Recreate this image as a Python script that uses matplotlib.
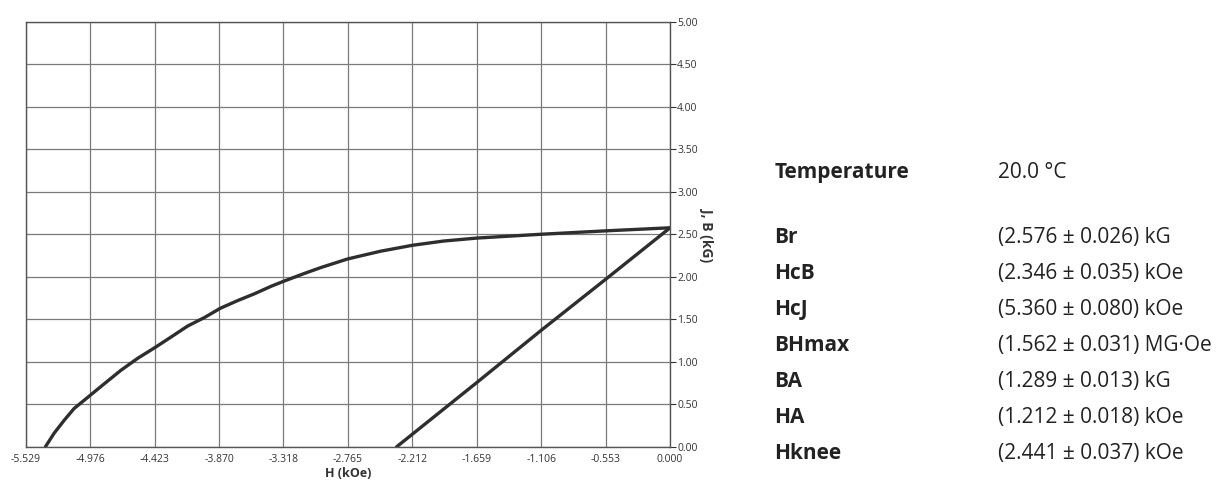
import numpy as np
import matplotlib
matplotlib.use("Agg")
import matplotlib.pyplot as plt

plt.rcParams["font.family"] = ["Open Sans", "DejaVu Sans"]

# =========================
# DATA
# =========================
# J (polarisation) curve
h_j = [-5.360, -5.285, -5.200, -5.114, -4.976, -4.856, -4.712, -4.569,
       -4.417, -4.283, -4.140, -3.996, -3.858, -3.710, -3.566, -3.420,
       -3.310, -3.136, -2.993, -2.765, -2.486, -2.212, -1.944, -1.659,
       -1.106, -0.553, 0.000]
j_vals = [0.00, 0.16, 0.31, 0.45, 0.605, 0.74, 0.90, 1.04,
          1.17, 1.29, 1.42, 1.52, 1.63, 1.72, 1.80, 1.89,
          1.95, 2.04, 2.11, 2.21, 2.30, 2.37, 2.42, 2.455,
          2.50, 2.54, 2.576]

# B (induction) curve, straight from HcB to Br
h_b = [-2.346, -1.659, -1.106, -0.553, 0.000]
b_vals = [0.00, 0.755, 1.37, 1.97, 2.576]

x_ticks = [-5.529, -4.976, -4.423, -3.870, -3.318, -2.765, -2.212,
           -1.659, -1.106, -0.553, 0.000]
y_ticks = [0.0, 0.5, 1.0, 1.5, 2.0, 2.5, 3.0, 3.5, 4.0, 4.5, 5.0]

param_names = ["Br", "HcB", "HcJ", "BHmax", "BA", "HA", "Hknee"]
param_values = ["(2.576 ± 0.026) kG", "(2.346 ± 0.035) kOe",
                "(5.360 ± 0.080) kOe", "(1.562 ± 0.031) MG·Oe",
                "(1.289 ± 0.013) kG", "(1.212 ± 0.018) kOe",
                "(2.441 ± 0.037) kOe"]
temperature = "20.0 °C"

# =========================
# FIGURE
# =========================
fig = plt.figure(figsize=(12.25, 4.83), dpi=100)
ax = fig.add_axes([0.021, 0.075, 0.526, 0.880])

ax.plot(h_j, j_vals, color="#2e2e2e", lw=2.4, solid_capstyle="round",
        solid_joinstyle="round")
ax.plot(h_b, b_vals, color="#2e2e2e", lw=2.4, solid_capstyle="round")

ax.set_xlim(x_ticks[0], x_ticks[-1])
ax.set_ylim(0, 5)
ax.set_xticks(x_ticks)
ax.set_xticklabels([f"{t:.3f}" for t in x_ticks])
ax.set_yticks(y_ticks)
ax.set_yticklabels([f"{t:.2f}" for t in y_ticks])
ax.yaxis.tick_right()
ax.yaxis.set_label_position("right")
ax.tick_params(axis="x", length=0, pad=5, labelsize=7.5, colors="#333333")
ax.tick_params(axis="y", length=4, width=0.8, pad=1, labelsize=7.5,
               colors="#333333")
ax.grid(True, color="#7a7a7a", lw=0.9)
ax.set_axisbelow(True)
for s in ax.spines.values():
    s.set_color("#555555")
    s.set_linewidth(1.0)

ax.set_xlabel("H (kOe)", fontsize=9, fontweight="bold", labelpad=2,
              color="#333333")
ax.set_ylabel("J, B (kG)", fontsize=10, fontweight="bold", rotation=-90,
              labelpad=12, color="#333333")

# =========================
# PARAMETER TABLE
# =========================
fs = 15
fig.text(0.632, 0.643, "Temperature", fontsize=fs, fontweight="bold",
         color="#222222", va="center")
fig.text(0.815, 0.643, temperature, fontsize=fs, color="#222222",
         va="center")
for i, (name, val) in enumerate(zip(param_names, param_values)):
    y = 0.508 - i * 0.0745
    fig.text(0.632, y, name, fontsize=fs, fontweight="bold",
             color="#222222", va="center")
    fig.text(0.815, y, val, fontsize=fs, color="#222222", va="center")

fig.savefig("out.png", dpi=100, facecolor="white")
